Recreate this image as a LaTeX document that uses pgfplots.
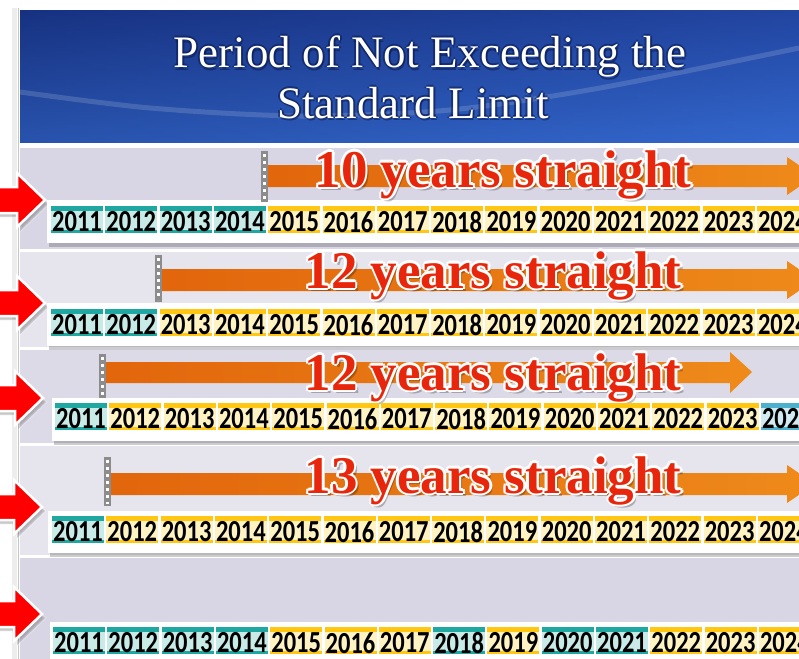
\documentclass[border=0pt]{standalone}
\usepackage{pgfplots}
\pgfplotsset{compat=1.18}
\usepackage{pgfplotstable}
\usepackage{fontspec}
\setmainfont{Liberation Serif}
\newfontfamily\yearfont{Carlito}

\definecolor{bandA}{HTML}{D8D6E4}
\definecolor{bandB}{HTML}{E6E5EE}
\definecolor{bandC}{HTML}{DCDAE7}
\definecolor{tealdk}{HTML}{1FA8A2}
\definecolor{tealpl}{HTML}{C9EBE8}
\definecolor{yeldk}{HTML}{FFC712}
\definecolor{yelpl}{HTML}{FFF3C4}
\definecolor{bludk}{HTML}{4DB0CC}
\definecolor{blupl}{HTML}{D2EBF2}
\definecolor{orgA}{HTML}{E2660C}
\definecolor{orgB}{HTML}{F6A623}
\definecolor{orgC}{HTML}{EE8A1A}
\definecolor{redtxt}{HTML}{E8260B}
\definecolor{bannerTop}{HTML}{1C3A92}
\definecolor{bannerBot}{HTML}{3367CD}
\definecolor{navy}{HTML}{0A1A4F}
\definecolor{markgray}{HTML}{8C8C8C}

% a year cell: pale body, strong band on top and bottom
\newcommand\defcell[3]{%
\pgfdeclareplotmark{#1}{%
  \pgfsetfillcolor{#3}%
  \pgfpathrectangle{\pgfpoint{-26bp}{-11bp}}{\pgfpoint{52bp}{27bp}}\pgfusepath{fill}%
  \pgfsetfillcolor{#2}%
  \pgfpathrectangle{\pgfpoint{-26bp}{11bp}}{\pgfpoint{52bp}{5bp}}\pgfusepath{fill}%
  \pgfpathrectangle{\pgfpoint{-26bp}{-11bp}}{\pgfpoint{52bp}{3.5bp}}\pgfusepath{fill}%
}}
\defcell{cellT}{tealdk}{tealpl}
\defcell{cellY}{yeldk}{yelpl}
\defcell{cellB}{bludk}{blupl}

\newcommand\bigred{\fontsize{53bp}{60bp}\selectfont\bfseries}
\newcommand\titlefont{\fontsize{45bp}{50bp}\selectfont}

\newcommand\glowred[3]{%
 \node[anchor=base, font=\bigred, text=black, opacity=0.25, xshift=3bp, yshift=-3bp] at (axis cs:#1,#2) {#3};
 \node[anchor=base, font=\bigred, text=white, xshift=2.5bp] at (axis cs:#1,#2) {#3};
 \node[anchor=base, font=\bigred, text=white, xshift=-2.5bp] at (axis cs:#1,#2) {#3};
 \node[anchor=base, font=\bigred, text=white, yshift=2.5bp] at (axis cs:#1,#2) {#3};
 \node[anchor=base, font=\bigred, text=white, yshift=-2.5bp] at (axis cs:#1,#2) {#3};
 \node[anchor=base, font=\bigred, text=white, xshift=1.8bp, yshift=1.8bp] at (axis cs:#1,#2) {#3};
 \node[anchor=base, font=\bigred, text=white, xshift=-1.8bp, yshift=1.8bp] at (axis cs:#1,#2) {#3};
 \node[anchor=base, font=\bigred, text=white, xshift=1.8bp, yshift=-1.8bp] at (axis cs:#1,#2) {#3};
 \node[anchor=base, font=\bigred, text=white, xshift=-1.8bp, yshift=-1.8bp] at (axis cs:#1,#2) {#3};
 \node[anchor=base, font=\bigred, text=redtxt] at (axis cs:#1,#2) {#3};
}
\newcommand\titleline[3]{%
 \node[anchor=base, font=\titlefont, text=navy, opacity=0.55, xshift=2bp] at (axis cs:#1,#2) {#3};
 \node[anchor=base, font=\titlefont, text=navy, opacity=0.55, xshift=-2bp] at (axis cs:#1,#2) {#3};
 \node[anchor=base, font=\titlefont, text=navy, opacity=0.55, yshift=2bp] at (axis cs:#1,#2) {#3};
 \node[anchor=base, font=\titlefont, text=navy, opacity=0.55, yshift=-2.5bp, xshift=1bp] at (axis cs:#1,#2) {#3};
 \node[anchor=base, font=\titlefont, text=white] at (axis cs:#1,#2) {#3};
}

% exceeded years (teal)
\pgfplotstableread{
year y dx
2011 222 0
2012 222 0
2013 222 0
2014 222 0
2011 325 0
2012 325 0
2011 419 4
2011 532 1
2011 643 2
2012 643 2
2013 643 2
2014 643 2
2018 643 2
2020 643 2
2021 643 2
}\cellsT

% years not exceeding the limit (yellow)
\pgfplotstableread{
year y dx
2015 222 0
2016 222 0
2017 222 0
2018 222 0
2019 222 0
2020 222 0
2021 222 0
2022 222 0
2023 222 0
2024 222 0
2013 325 0
2014 325 0
2015 325 0
2016 325 0
2017 325 0
2018 325 0
2019 325 0
2020 325 0
2021 325 0
2022 325 0
2023 325 0
2024 325 0
2012 419 4
2013 419 4
2014 419 4
2015 419 4
2016 419 4
2017 419 4
2018 419 4
2019 419 4
2020 419 4
2021 419 4
2022 419 4
2023 419 4
2012 532 1
2013 532 1
2014 532 1
2015 532 1
2016 532 1
2017 532 1
2018 532 1
2019 532 1
2020 532 1
2021 532 1
2022 532 1
2023 532 1
2024 532 1
2015 643 2
2016 643 2
2017 643 2
2019 643 2
2022 643 2
2023 643 2
2024 643 2
}\cellsY

\pgfplotstableread{
year y dx
2024 419 4
}\cellsB

\pgfplotsset{
  cell/.style={only marks, mark=#1,
     point meta=\thisrow{year},
     nodes near coords={\pgfmathprintnumber[fixed, precision=0, 1000 sep={}, assume math mode=true]{\pgfplotspointmeta}},
     every node near coord/.append style={anchor=center, inner sep=0pt, text=black,
        font=\yearfont\bfseries\fontsize{24.5bp}{26bp}\selectfont, yscale=1.25}},
}

\begin{document}
\begin{tikzpicture}
\begin{axis}[name=ax, scale only axis, width=799bp, height=659bp,
  xmin=0, xmax=799, ymin=0, ymax=659, y dir=reverse,
  hide axis, clip=false]

% background
\addplot[fill=white, draw=none] coordinates {(0,0) (799,0) (799,659) (0,659)} -- cycle;
\addplot[draw=black, opacity=0.07, line width=5bp] coordinates {(14,8) (14,659)};
\addplot[draw=gray!45, line width=1.5bp] coordinates {(18.5,8) (18.5,659)};

% banner
\addplot[top color=bannerTop, bottom color=bannerBot, draw=none] coordinates {(20,11) (799,11) (799,142) (20,142)} -- cycle;
\addplot[left color=navy, right color=bannerBot, opacity=0.25, draw=none] coordinates {(20,11) (799,11) (799,142) (20,142)} -- cycle;
\addplot[draw=white, opacity=0.15, line width=5bp, smooth] coordinates {(20,92) (150,108) (300,116) (450,110) (600,88) (799,48)};

% row bands
\addplot[fill=bandA, draw=none] coordinates {(20,148) (799,148) (799,249) (20,249)} -- cycle;
\addplot[fill=bandB, draw=none] coordinates {(20,252) (799,252) (799,347) (20,347)} -- cycle;
\addplot[fill=bandC, draw=none] coordinates {(20,350) (799,350) (799,443) (20,443)} -- cycle;
\addplot[fill=bandB, draw=none] coordinates {(20,446) (799,446) (799,555) (20,555)} -- cycle;
\addplot[fill=bandA, draw=none] coordinates {(20,558) (799,558) (799,659) (20,659)} -- cycle;

% red arrows
\addplot[fill=red, draw=white, line width=2.5bp, line join=miter,
  preaction={fill=black, opacity=0.22, transform canvas={xshift=3bp, yshift=-4bp}}]
  coordinates {(-5,187) (17,187) (17,173) (45,200) (17,227) (17,213) (-5,213)} -- cycle;
\addplot[fill=red, draw=white, line width=2.5bp, line join=miter,
  preaction={fill=black, opacity=0.22, transform canvas={xshift=3bp, yshift=-4bp}}]
  coordinates {(-5,290) (17,290) (17,276) (45,303) (17,330) (17,316) (-5,316)} -- cycle;
\addplot[fill=red, draw=white, line width=2.5bp, line join=miter,
  preaction={fill=black, opacity=0.22, transform canvas={xshift=3bp, yshift=-4bp}}]
  coordinates {(-5,385) (15,385) (15,371) (43,398) (15,425) (15,411) (-5,411)} -- cycle;
\addplot[fill=red, draw=white, line width=2.5bp, line join=miter,
  preaction={fill=black, opacity=0.22, transform canvas={xshift=3bp, yshift=-4bp}}]
  coordinates {(-5,494) (14,494) (14,480) (42,507) (14,534) (14,520) (-5,520)} -- cycle;
\addplot[fill=red, draw=white, line width=2.5bp, line join=miter,
  preaction={fill=black, opacity=0.22, transform canvas={xshift=3bp, yshift=-4bp}}]
  coordinates {(-5,601) (14,601) (14,587) (42,614) (14,641) (14,627) (-5,627)} -- cycle;

% white strips behind the year cells
\addplot[fill=white, draw=none, preaction={fill=black, opacity=0.2, transform canvas={xshift=2bp, yshift=-4bp}}]
  coordinates {(47,200) (812,200) (812,243) (47,243)} -- cycle;
\addplot[fill=white, draw=none, preaction={fill=black, opacity=0.2, transform canvas={xshift=2bp, yshift=-4bp}}]
  coordinates {(47,303) (812,303) (812,346) (47,346)} -- cycle;
\addplot[fill=white, draw=none, preaction={fill=black, opacity=0.2, transform canvas={xshift=2bp, yshift=-4bp}}]
  coordinates {(52,398) (812,398) (812,441) (52,441)} -- cycle;
\addplot[fill=white, draw=none, preaction={fill=black, opacity=0.2, transform canvas={xshift=2bp, yshift=-4bp}}]
  coordinates {(48,511) (812,511) (812,553) (48,553)} -- cycle;
\addplot[fill=white, draw=none, preaction={fill=black, opacity=0.2, transform canvas={xshift=2bp, yshift=-4bp}}]
  coordinates {(50,622) (812,622) (812,670) (50,670)} -- cycle;

% year cells
\addplot[cell=cellT] table[x expr=77+(\thisrow{year}-2011)*54.3+\thisrow{dx}, y=y] {\cellsT};
\addplot[cell=cellY] table[x expr=77+(\thisrow{year}-2011)*54.3+\thisrow{dx}, y=y] {\cellsY};
\addplot[cell=cellB] table[x expr=77+(\thisrow{year}-2011)*54.3+\thisrow{dx}, y=y] {\cellsB};

% start markers
\addplot[draw=markgray, line width=7bp] coordinates {(264.5,151) (264.5,202)};
\addplot[draw=white, line width=3bp, dash pattern=on 3bp off 4bp] coordinates {(264.5,154) (264.5,200)};
\addplot[draw=markgray, line width=7bp] coordinates {(158.5,255) (158.5,302)};
\addplot[draw=white, line width=3bp, dash pattern=on 3bp off 4bp] coordinates {(158.5,258) (158.5,300)};
\addplot[draw=markgray, line width=7bp] coordinates {(102.5,354) (102.5,398)};
\addplot[draw=white, line width=3bp, dash pattern=on 3bp off 4bp] coordinates {(102.5,357) (102.5,396)};
\addplot[draw=markgray, line width=7bp] coordinates {(107.5,457) (107.5,506)};
\addplot[draw=white, line width=3bp, dash pattern=on 3bp off 4bp] coordinates {(107.5,460) (107.5,504)};

% orange arrows
\addplot[left color=orgA, middle color=orgB, right color=orgC, draw=none]
  coordinates {(268,165) (787,165) (787,157) (815,176) (787,195) (787,187) (268,187)} -- cycle;
\addplot[left color=orgA, middle color=orgB, right color=orgC, draw=none]
  coordinates {(162,269) (787,269) (787,261) (815,280) (787,299) (787,291) (162,291)} -- cycle;
\addplot[left color=orgA, middle color=orgB, right color=orgC, draw=none]
  coordinates {(106,362) (730,362) (730,352) (752,372) (730,393) (730,383) (106,383)} -- cycle;
\addplot[left color=orgA, middle color=orgB, right color=orgC, draw=none]
  coordinates {(111,473) (787,473) (787,465) (815,484) (787,503) (787,495) (111,495)} -- cycle;

% texts
\titleline{430}{68}{Period of Not Exceeding the}
\titleline{413}{118}{Standard Limit}
\glowred{503}{187}{10 years straight}
\glowred{493}{288}{12 years straight}
\glowred{493}{390}{12 years straight}
\glowred{493}{493}{13 years straight}
\end{axis}
\pgfresetboundingbox
\path[use as bounding box] (ax.south west) rectangle (ax.north east);
\end{tikzpicture}
\end{document}
